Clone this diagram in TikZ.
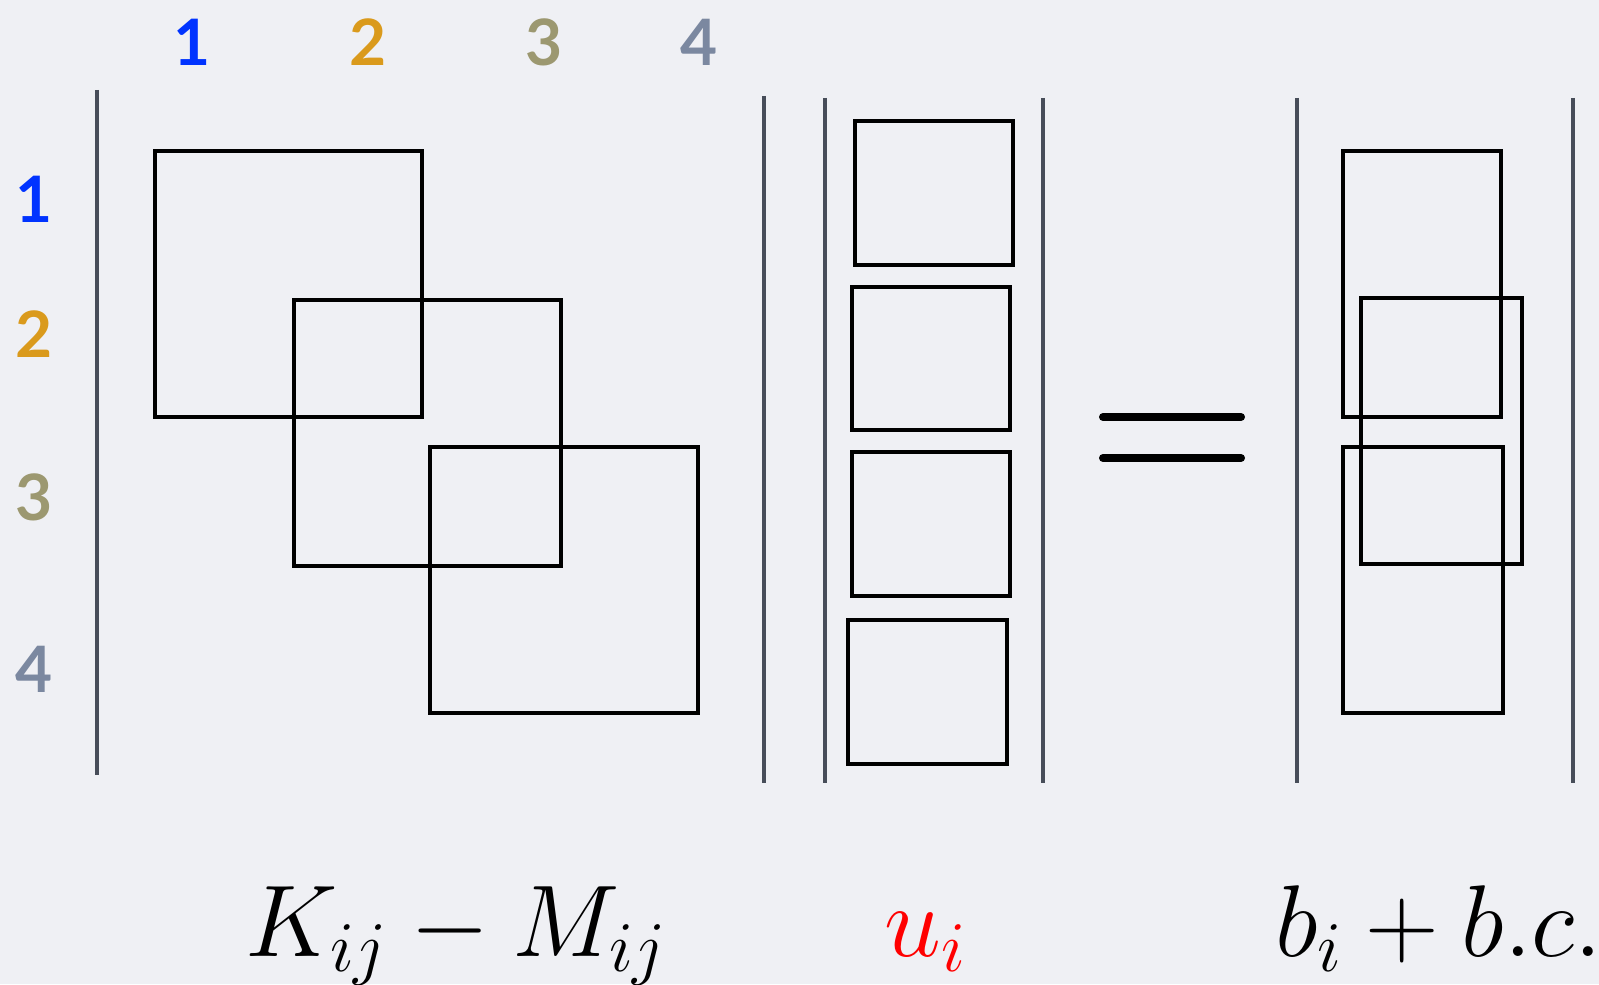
\RequirePackage{fix-cm}
\documentclass[tikz,border=0pt]{standalone}
\usepackage{fontspec}
\newfontfamily\numfont{Lato}
\definecolor{bgcol}{HTML}{EFF0F4}
\definecolor{barcol}{HTML}{474D59}
\definecolor{cone}{HTML}{0033FF}
\definecolor{ctwo}{HTML}{DA9A1C}
\definecolor{cthree}{HTML}{9C9870}
\definecolor{cfour}{HTML}{7B88A0}
\begin{document}
\begin{tikzpicture}[x=0.5pt,y=-0.5pt,
  bar/.style={draw=barcol,line width=2pt},
  blk/.style={draw=black,line width=2pt},
  num/.style={inner sep=0pt,font=\numfont\bfseries\fontsize{32}{36}\selectfont},
  frm/.style={inner sep=0pt,anchor=base,font=\fontsize{51}{60}\selectfont}]
\useasboundingbox (0,0) rectangle (1599,984);
\fill[bgcol] (0,0) rectangle (1599,984);
% column labels
\node[num,text=cone]   (c1) at (192,42) {1};
\node[num,text=ctwo]   (c2) at (368,42) {2};
\node[num,text=cthree] (c3) at (544,42) {3};
\node[num,text=cfour]  (c4) at (699,42) {4};
% row labels
\node[num,text=cone]   (r1) at (34,199) {1};
\node[num,text=ctwo]   (r2) at (34,334) {2};
\node[num,text=cthree] (r3) at (34,497) {3};
\node[num,text=cfour]  (r4) at (34,669) {4};
% bars
\draw[bar] (97,90) -- (97,775);
\draw[bar] (764,96) -- (764,783);
\draw[bar] (825,98) -- (825,783);
\draw[bar] (1043,98) -- (1043,783);
\draw[bar] (1297,98) -- (1297,783);
\draw[bar] (1573,98) -- (1573,783);
% matrix blocks
\draw[blk] (155,151) rectangle (422,417);
\draw[blk] (294,300) rectangle (561,566);
\draw[blk] (430,447) rectangle (698,713);
% u vector
\draw[blk] (855,121) rectangle (1013,265);
\draw[blk] (852,287) rectangle (1010,430);
\draw[blk] (852,452) rectangle (1010,596);
\draw[blk] (848,620) rectangle (1007,764);
% b vector
\draw[blk] (1343,151) rectangle (1501,417);
\draw[blk] (1361,298) rectangle (1522,564);
\draw[blk] (1343,447) rectangle (1503,713);
% equals
\draw[line width=4pt,line cap=round] (1103,417) -- (1241,417);
\draw[line width=4pt,line cap=round] (1103,458) -- (1241,458);
% formulas
\node[frm] (km) at (456,956) {$K_{ij}-M_{ij}$};
\node[frm,text=red] (u) at (925,956) {$u_i$};
\node[frm] (b) at (1439,956) {$b_i+b.c.$};
\end{tikzpicture}
\end{document}
